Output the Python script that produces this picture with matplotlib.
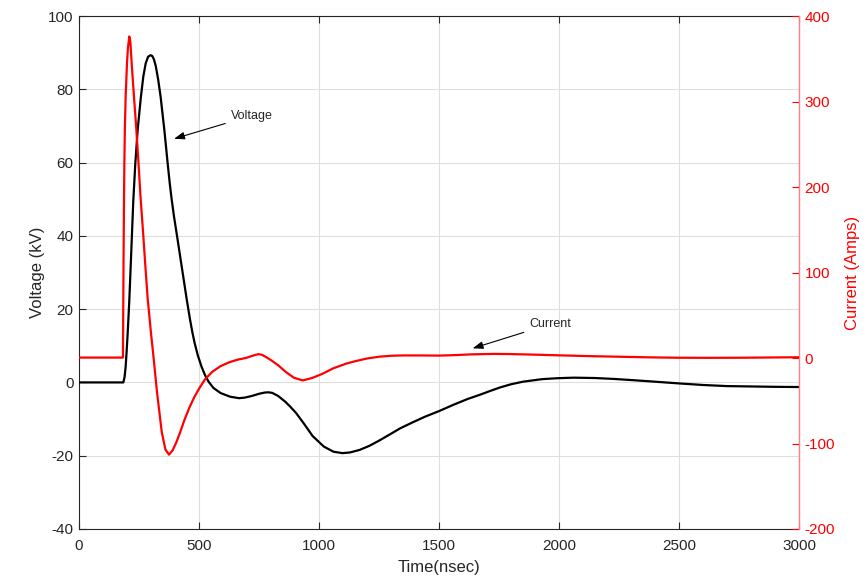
import matplotlib
matplotlib.use("Agg")
import matplotlib.pyplot as plt

plt.rcParams['font.family'] = ['Liberation Sans', 'DejaVu Sans']
plt.rcParams['axes.unicode_minus'] = False

# Voltage trace (time in ns, kV)
t_v = [0, 184.7, 190, 194.4, 198.5, 202.8, 209.7, 215.3, 221, 226.4, 234.7,
       244.4, 258, 268, 278, 288, 298.6, 305, 312, 320, 330, 340, 355.6, 369.4,
       378, 386, 396, 407, 428, 449, 462, 472, 482, 495, 510, 525, 540, 560, 590,
       630, 667, 690, 720, 750, 775, 790, 805, 830, 860, 880, 904, 940, 973, 1020,
       1060, 1098, 1130, 1170, 1210, 1250, 1300, 1339, 1390, 1440, 1501, 1560,
       1620, 1669, 1710, 1753, 1800, 1850, 1930, 1993, 2062, 2150, 2230, 2312,
       2400, 2507, 2600, 2700, 2800, 2900, 3000]
voltage = [0, 0, 1.5, 4.3, 8.5, 13.4, 22.5, 31.6, 41, 49.8, 59.8, 68.9, 78, 83.5,
           87.1, 88.9, 89.3, 89.1, 88.2, 86.3, 82.6, 78, 68.9, 59.8, 54.4, 50.0,
           45.2, 40.6, 31.6, 22.6, 17.4, 13.8, 10.7, 7.4, 4.4, 2.0, 0.2, -1.5, -2.9,
           -3.9, -4.3, -4.15, -3.7, -3.1, -2.75, -2.7, -2.85, -3.7, -5.3, -6.6,
           -8.3, -11.5, -14.6, -17.5, -18.9, -19.3, -19.1, -18.4, -17.3, -15.9,
           -14.0, -12.5, -10.9, -9.4, -7.8, -6.1, -4.5, -3.4, -2.4, -1.4, -0.5,
           0.2, 0.9, 1.15, 1.3, 1.2, 0.95, 0.6, 0.2, -0.3, -0.7, -1.0, -1.1, -1.2,
           -1.25]

# Current trace (time in ns, A)
t_i = [0, 183, 184, 185.5, 187.5, 189, 191, 194.4, 200, 204, 209.6, 214, 219.4,
       229, 239, 247, 256, 266.7, 276.4, 286, 300, 312, 325, 345, 360, 375, 390,
       405, 420, 440, 460, 480, 501, 525, 556, 590, 626, 660, 695, 725, 747, 762,
       780, 800, 830, 862, 895, 932, 970, 1015, 1060, 1112, 1150, 1200, 1250,
       1300, 1350, 1420, 1499, 1560, 1640, 1729, 1800, 1900, 2000, 2125, 2250,
       2370, 2494, 2620, 2750, 2880, 3000]
current = [0.5, 0.5, 40, 110, 185, 228, 267, 306, 345, 363, 376, 370, 345, 306,
           267, 232, 190, 148, 108, 70, 29, -3, -40, -87, -107, -113, -108, -99,
           -88, -72, -58, -46, -35.5, -25, -16, -9.5, -5, -2, 0, 2.8, 4.5, 3.8, 1,
           -2.5, -8.5, -16.4, -23, -26.2, -23.5, -18.4, -12, -6.7, -3.8, -0.6,
           1.5, 2.6, 3.0, 3.0, 2.8, 3.3, 4.3, 4.8, 4.6, 3.9, 3.1, 2.2, 1.5, 0.8,
           0.3, 0.2, 0.3, 0.6, 0.9]

x_ticks = [0, 500, 1000, 1500, 2000, 2500, 3000]
v_ticks = [-40, -20, 0, 20, 40, 60, 80, 100]
i_ticks = [-200, -100, 0, 100, 200, 300, 400]

dark = '#262626'

fig = plt.figure(figsize=(8.66, 5.77), dpi=100)
ax = fig.add_axes([79/866, 48/577, 720/866, 513/577])
ax2 = ax.twinx()

ax.plot(t_v, voltage, color='black', lw=1.6, zorder=3)
ax2.plot(t_i, current, color='red', lw=1.6, zorder=3)

ax.set_xlim(0, 3000)
ax.set_ylim(-40, 100)
ax2.set_ylim(-200, 400)
ax.set_xticks(x_ticks)
ax.set_yticks(v_ticks)
ax2.set_yticks(i_ticks)

ax.grid(True, color='#dedede', lw=0.8)
ax.set_axisbelow(True)

ax.tick_params(axis='both', direction='in', length=5, width=0.8, colors=dark,
               labelsize=11, top=True, right=False, pad=4)
ax.tick_params(axis='x', pad=7)
ax2.tick_params(axis='y', direction='in', length=5, width=0.8, colors='red',
                labelsize=11, pad=4)

for s in ['left', 'top', 'bottom']:
    ax.spines[s].set_color(dark)
    ax.spines[s].set_linewidth(0.8)
ax.spines['right'].set_visible(False)
for s in ['left', 'top', 'bottom']:
    ax2.spines[s].set_visible(False)
ax2.spines['right'].set_color('#ff8080')
ax2.spines['right'].set_linewidth(1.0)

ax.set_xlabel('Time(nsec)', fontsize=12, color=dark, labelpad=5)
ax.set_ylabel('Voltage (kV)', fontsize=12, color=dark, labelpad=2)
ax2.set_ylabel('Current (Amps)', fontsize=12, color='red', labelpad=7.5)

arrow = dict(arrowstyle='-|>,head_length=0.7,head_width=0.25', color='black',
             lw=0.8, shrinkA=2, shrinkB=0)
ax.annotate('Voltage', xy=(396, 66.5), xytext=(632, 72.8), fontsize=9,
            color=dark, ha='left', va='center', arrowprops=arrow, zorder=5)
ax.annotate('Current', xy=(1640, 9.3), xytext=(1876, 15.9), fontsize=9,
            color=dark, ha='left', va='center', arrowprops=arrow, zorder=5)

fig.savefig('out.png', dpi=100)
